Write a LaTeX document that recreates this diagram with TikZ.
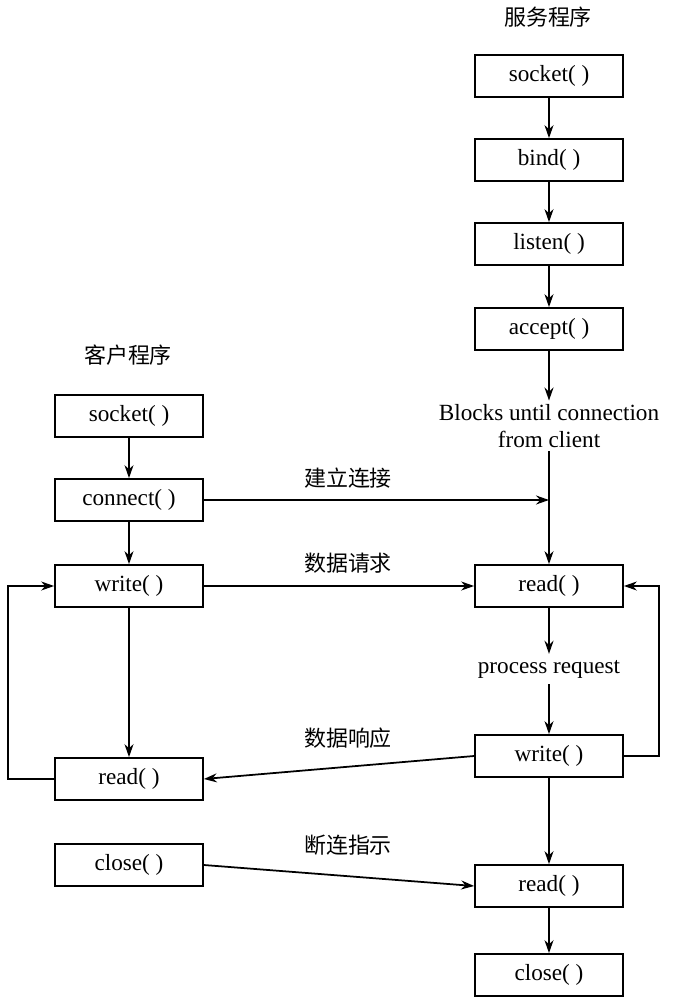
\documentclass[tikz,border=0pt]{standalone}
\usepackage{fontspec}
\setmainfont{Liberation Serif}
\newfontfamily\cjk{Noto Sans CJK SC}
\usetikzlibrary{arrows.meta,positioning}

\tikzset{
	fn/.style={draw, line width=1pt, minimum width=2.96cm, minimum height=0.84cm, inner sep=0pt, font=\fontsize{13.2}{15}\selectfont},
	arr/.style={line width=1pt, -{Stealth[length=2.6mm,width=1.8mm]}},
	lbl/.style={font=\cjk\fontsize{12.5}{14}\selectfont}
}

\begin{document}
\begin{tikzpicture}[x=0.02cm, y=-0.02cm]
			\useasboundingbox (0,0) rectangle (681,1000);
			% server side
			\node[lbl] (stitle) at (548,17) {服务程序};
			\node[fn] (ssocket) at (549,76) {socket( )};
			\node[fn] (sbind) at (549,160) {bind( )};
			\node[fn] (slisten) at (549,244) {listen( )};
			\node[fn] (saccept) at (549,329) {accept( )};
			\node[align=center, inner sep=2pt, font=\fontsize{13.2}{15.3}\selectfont] (blk) at (549,426) {Blocks until connection\\from client};
			\node[font=\fontsize{13.2}{15}\selectfont] (proc) at (549,669) {process request};
			\node[fn] (sread) at (549,586) {read( )};
			\node[fn] (swrite) at (549,756) {write( )};
			\node[fn] (sread2) at (549,886) {read( )};
			\node[fn] (sclose) at (549,975) {close( )};
			% client side
			\node[lbl] (ctitle) at (128,355) {客户程序};
			\node[fn] (csocket) at (129,416) {socket( )};
			\node[fn] (cconnect) at (129,500) {connect( )};
			\node[fn] (cwrite) at (129,586) {write( )};
			\node[fn] (cread) at (129,779) {read( )};
			\node[fn] (cclose) at (129,865) {close( )};
			\coordinate (join) at (549,500);
			
			\draw[arr] (ssocket) -- (sbind);
			\draw[arr] (sbind) -- (slisten);
			\draw[arr] (slisten) -- (saccept);
			\draw[arr] (saccept) -- (blk);
			\draw[arr] (blk) -- (sread);
			\draw[arr] (sread) -- (proc);
			\draw[arr] (proc) -- (swrite);
			\draw[arr] (swrite) -- (sread2);
			\draw[arr] (sread2) -- (sclose);
			\draw[arr] (swrite.east) -- ++(35,0) |- (sread.east);
			
			\draw[arr] (csocket) -- (cconnect);
			\draw[arr] (cconnect) -- (cwrite);
			\draw[arr] (cwrite) -- (cread);
			\draw[arr] (cread.west) -- ++(-46,0) |- (cwrite.west);
			
			\draw[arr] (cconnect.east) -- (join);
			\draw[arr] (cwrite.east) -- (sread.west);
			\draw[arr] (swrite.west) -- (cread.east);
			\draw[arr] (cclose.east) -- (sread2.west);
			\node[lbl] (conn) at (348,478) {建立连接};
			\node[lbl] (req) at (348,563) {数据请求};
			\node[lbl] (resp) at (348,738) {数据响应};
			\node[lbl] (disc) at (348,845) {断连指示};
			
		\end{tikzpicture}
\end{document}
